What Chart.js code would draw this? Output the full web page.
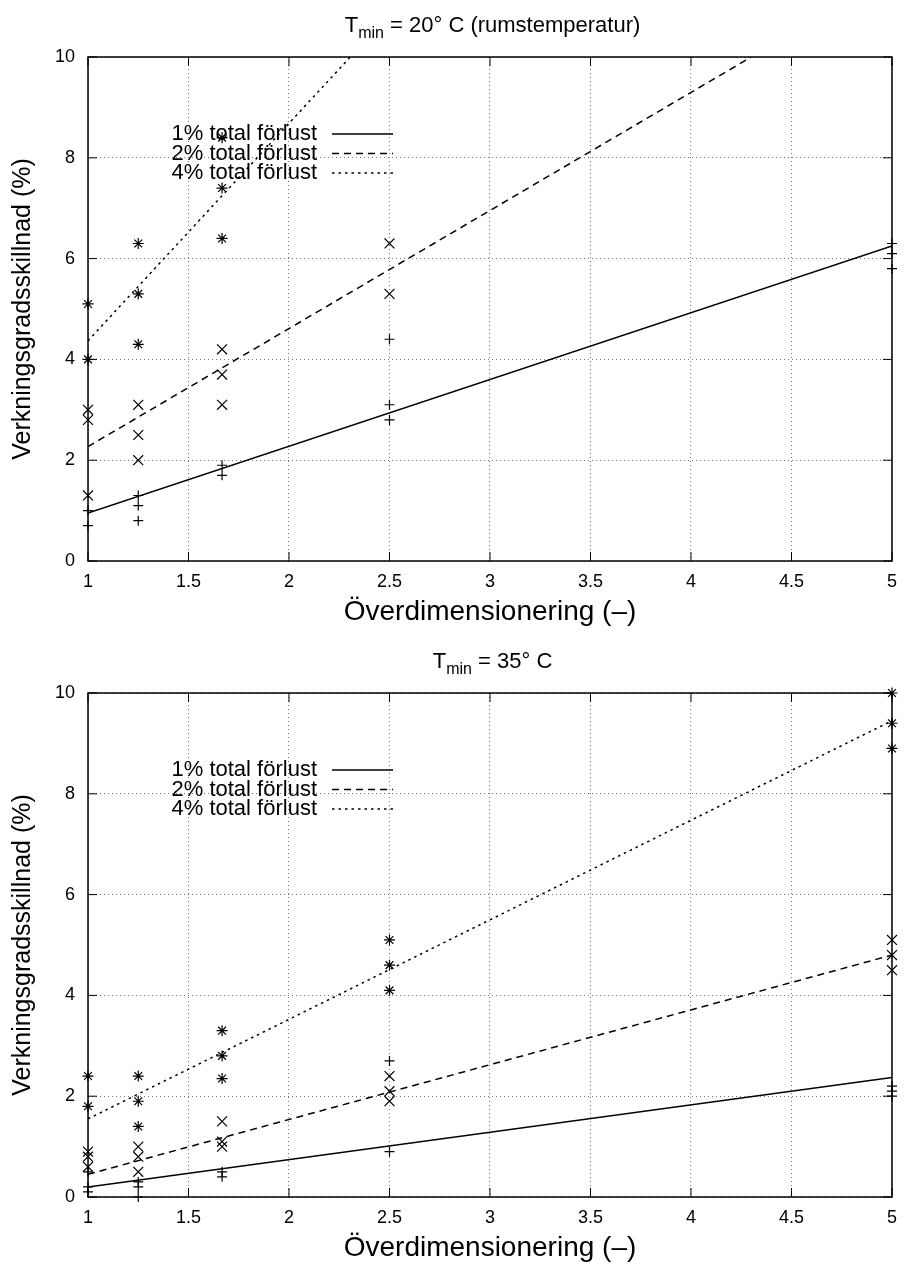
<!DOCTYPE html>
<html>
<head>
<meta charset="utf-8">
<script src="https://cdn.jsdelivr.net/npm/chart.js@4"></script>
<style>
  body { margin: 0; background: #fff; width: 907px; height: 1269px; overflow: hidden; position: relative;
         font-family: "Liberation Sans", Arial, sans-serif; }
  .panel { position: absolute; left: 0; width: 907px; height: 636px; }
  .title { position: absolute; left: 88px; width: 809px; text-align: center; font-size: 22px; line-height: 24px; color: #000; }
  .title sub { font-size: 16px; line-height: 0; vertical-align: -6px; }
</style>
</head>
<body>

<div class="panel" style="top:0"><canvas id="chartTop" width="907" height="636"></canvas></div>
<div class="title" style="top:13px">T<sub>min</sub> = 20° C (rumstemperatur)</div>

<div class="panel" style="top:636px"><canvas id="chartBottom" width="907" height="636"></canvas></div>
<div class="title" style="top:649px">T<sub>min</sub> = 35° C</div>

<script>
// overdimensionering (x) och tick-värden
const overdim = [1, 1.25, 1.667, 2.5, 5];
const xTicks = [1, 1.5, 2, 2.5, 3, 3.5, 4, 4.5, 5];
const yTicks = [0, 2, 4, 6, 8, 10];
const seriesLabels = ['1% total förlust', '2% total förlust', '4% total förlust'];

// Tmin = 20 C, mätpunkter per överdimensionering
const top1 = [[0.7, 1.0], [0.8, 1.1, 1.3], [1.7, 1.9], [2.8, 3.1, 4.4], [5.8, 6.1, 6.3]];
const top2 = [[1.3, 2.8, 3.0], [2.0, 2.5, 3.1], [3.1, 3.7, 4.2], [5.3, 6.3], []];
const top4 = [[4.0, 5.1], [4.3, 5.3, 6.3], [6.4, 7.4, 8.4], [], []];
// anpassade linjer [x, y]
const topFit1 = [[1, 0.95], [5, 6.25]];
const topFit2 = [[1, 2.27], [4.3, 10]];
const topFit4 = [[1, 4.37], [2.305, 10]];

// Tmin = 35 C
const bot1 = [[0.1, 0.2, 0.5], [0.0, 0.2, 0.3], [0.4, 0.5], [0.9, 2.7], [2.0, 2.1, 2.2]];
const bot2 = [[0.6, 0.8, 0.9], [0.5, 0.8, 1.0], [1.0, 1.1, 1.5], [1.9, 2.1, 2.4], [4.5, 4.8, 5.1]];
const bot4 = [[1.8, 2.4], [1.4, 1.9, 2.4], [2.35, 2.8, 3.3], [4.1, 4.6, 5.1], [8.9, 9.4, 10.0]];
const botFit1 = [[1, 0.2], [5, 2.37]];
const botFit2 = [[1, 0.45], [5, 4.8]];
const botFit4 = [[1, 1.55], [5, 9.45]];

// stilar
const fitDash = [[], [7, 5], [2.5, 4]];
const markerStyles = ['cross', 'crossRot', 'star'];
const markerRadius = [5, 7, 5.5];

Chart.defaults.font.family = '"Liberation Sans", Arial, sans-serif';
Chart.defaults.color = '#000';

// ram + inåtriktade tickmarkeringar som i gnuplot
const frame = {
  id: 'frame',
  beforeDatasetsDraw(chart) {
    const { ctx, chartArea: a, scales: { x, y } } = chart;
    ctx.save();
    ctx.strokeStyle = '#000';
    ctx.lineWidth = 1;
    ctx.beginPath();
    x.ticks.forEach(t => {
      const px = x.getPixelForValue(t.value);
      ctx.moveTo(px, a.bottom); ctx.lineTo(px, a.bottom - 9);
      ctx.moveTo(px, a.top); ctx.lineTo(px, a.top + 9);
    });
    y.ticks.forEach(t => {
      const py = y.getPixelForValue(t.value);
      ctx.moveTo(a.left, py); ctx.lineTo(a.left + 9, py);
      ctx.moveTo(a.right, py); ctx.lineTo(a.right - 9, py);
    });
    ctx.stroke();
    ctx.lineWidth = 1.5;
    ctx.strokeRect(a.left, a.top, a.right - a.left, a.bottom - a.top);
    ctx.restore();
  }
};

// nyckel inne i diagrammet: text till vänster, linjeprov till höger
const fitKey = {
  id: 'fitKey',
  afterDatasetsDraw(chart) {
    const { ctx, chartArea: a } = chart;
    const rows = chart.data.datasets.filter(d => d.fit);
    ctx.save();
    ctx.font = '22px "Liberation Sans", Arial, sans-serif';
    ctx.textAlign = 'right';
    ctx.textBaseline = 'middle';
    ctx.fillStyle = '#000';
    rows.forEach((d, i) => {
      const yy = a.top + 77 + i * 19.5;
      ctx.fillText(d.label, a.left + 229, yy);
      ctx.beginPath();
      ctx.setLineDash(d.borderDash);
      ctx.lineWidth = d.borderWidth;
      ctx.strokeStyle = '#000';
      ctx.moveTo(a.left + 244, yy);
      ctx.lineTo(a.left + 305, yy);
      ctx.stroke();
    });
    ctx.restore();
  }
};

function points(groups) {
  return groups.flatMap((g, i) => g.map(v => ({ x: overdim[i], y: v })));
}

function makeChart(id, markers, fits) {
  const datasets = [];
  fits.forEach((f, i) => {
    datasets.push({
      label: seriesLabels[i],
      data: f.map(p => ({ x: p[0], y: p[1] })),
      showLine: true,
      borderColor: '#000',
      borderWidth: 1.5,
      borderDash: fitDash[i],
      pointRadius: 0,
      tension: 0,
      fit: true
    });
  });
  markers.forEach((g, i) => {
    datasets.push({
      label: 'mätning ' + seriesLabels[i],
      data: points(g),
      pointStyle: markerStyles[i],
      pointRadius: markerRadius[i],
      pointBorderWidth: 1.2,
      borderColor: '#000',
      backgroundColor: '#000',
      clip: false
    });
  });

  return new Chart(document.getElementById(id), {
    type: 'scatter',
    data: { datasets: datasets },
    plugins: [frame, fitKey],
    options: {
      responsive: false,
      animation: false,
      devicePixelRatio: 1,
      layout: { padding: { top: 57, right: 10, left: 0, bottom: 0 } },
      plugins: { legend: { display: false }, tooltip: { enabled: false } },
      scales: {
        x: {
          type: 'linear', min: 1, max: 5,
          afterBuildTicks: s => { s.ticks = xTicks.map(v => ({ value: v })); },
          afterFit: s => { s.height = 75; },
          grid: { color: '#777', lineWidth: 1, drawTicks: false },
          border: { display: false, dash: [1, 3] },
          ticks: { padding: 10, font: { size: 18 }, color: '#000', maxRotation: 0, autoSkip: false,
                   callback: v => String(v) },
          title: { display: true, text: 'Överdimensionering (–)', font: { size: 28 }, color: '#000',
                   padding: { top: 0, bottom: 7 } }
        },
        y: {
          type: 'linear', min: 0, max: 10,
          afterBuildTicks: s => { s.ticks = yTicks.map(v => ({ value: v })); },
          afterFit: s => { s.width = 88; },
          grid: { color: '#777', lineWidth: 1, drawTicks: false },
          border: { display: false, dash: [1, 3] },
          ticks: { padding: 13, font: { size: 18 }, color: '#000', callback: v => String(v) },
          title: { display: true, text: 'Verkningsgradsskillnad (%)', font: { size: 25 }, color: '#000',
                   padding: { top: 8, bottom: 0 } }
        }
      }
    }
  });
}

makeChart('chartTop', [top1, top2, top4], [topFit1, topFit2, topFit4]);
makeChart('chartBottom', [bot1, bot2, bot4], [botFit1, botFit2, botFit4]);
</script>
</body>
</html>
